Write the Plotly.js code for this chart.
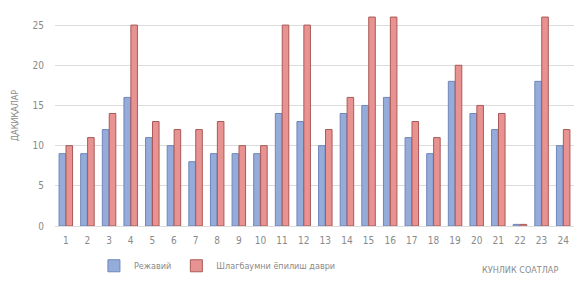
<!DOCTYPE html>
<html><head><meta charset="utf-8">
<script src="https://cdn.plot.ly/plotly-3.0.1.min.js"></script>
<style>html,body{margin:0;padding:0;background:#fff;}#c{width:577px;height:284px;}</style>
</head><body><div id="c"></div>
<script>
const hours = ['1','2','3','4','5','6','7','8','9','10','11','12','13','14','15','16','17','18','19','20','21','22','23','24'];
const seriesA = [9,9,12,16,11,10,8,9,9,9,14,13,10,14,15,16,11,9,18,14,12,0.2,18,10];
const seriesB = [10,11,14,25,13,12,12,13,10,10,25,25,12,16,26,26,13,11,20,15,14,0.2,26,12];
const nameA = 'Режавий';
const nameB = 'Шлагбаумни ёпилиш даври';
const yTitle = 'ДАҚИҚАЛАР';
const xTitle = 'КУНЛИК СОАТЛАР';
const yTicks = [0,5,10,15,20,25];

const fontFam = '"DejaVu Sans Condensed","Liberation Sans Narrow","Liberation Sans",sans-serif';
const data = [
  {type:'bar', x:hours, y:seriesA, name:nameA,
   marker:{color:'#95acdb', line:{color:'#6f86b8', width:1}}},
  {type:'bar', x:hours, y:seriesB, name:nameB,
   marker:{color:'#e89292', line:{color:'#a85a58', width:1}}}
];
const layout = {
  width:577, height:284,
  margin:{l:55, r:3, t:5, b:58},
  paper_bgcolor:'#fff', plot_bgcolor:'#fff',
  barmode:'group', bargap:0.36, bargroupgap:0.05,
  font:{family:fontFam, color:'#8a8a8a', size:10},
  showlegend:true,
  legend:{orientation:'h', x:0.075, xanchor:'left', y:-0.18, yanchor:'middle',
          font:{size:9, color:'#8a8a8a'}, itemwidth:20, traceorder:'normal'},
  xaxis:{type:'category', showgrid:false, zeroline:false, showline:false,
         ticks:'', tickfont:{size:10, color:'#8a8a8a'}, ticklabelstandoff:7},
  yaxis:{range:[0,27.5], tickvals:yTicks, showgrid:true, gridcolor:'#dcdcdc', gridwidth:1,
         zeroline:true, zerolinecolor:'#dcdcdc', showline:false, ticks:'',
         tickfont:{size:10, color:'#8a8a8a'}, ticklabelstandoff:10,
         title:{text:yTitle, font:{size:9, color:'#8a8a8a'}, standoff:12}},
  annotations:[{text:xTitle, xref:'paper', yref:'paper', x:0.973, xanchor:'right',
                y:-0.2, yanchor:'middle', showarrow:false,
                font:{size:9, color:'#8a8a8a'}}]
};
Plotly.newPlot('c', data, layout, {staticPlot:true, displayModeBar:false});
</script></body></html>
